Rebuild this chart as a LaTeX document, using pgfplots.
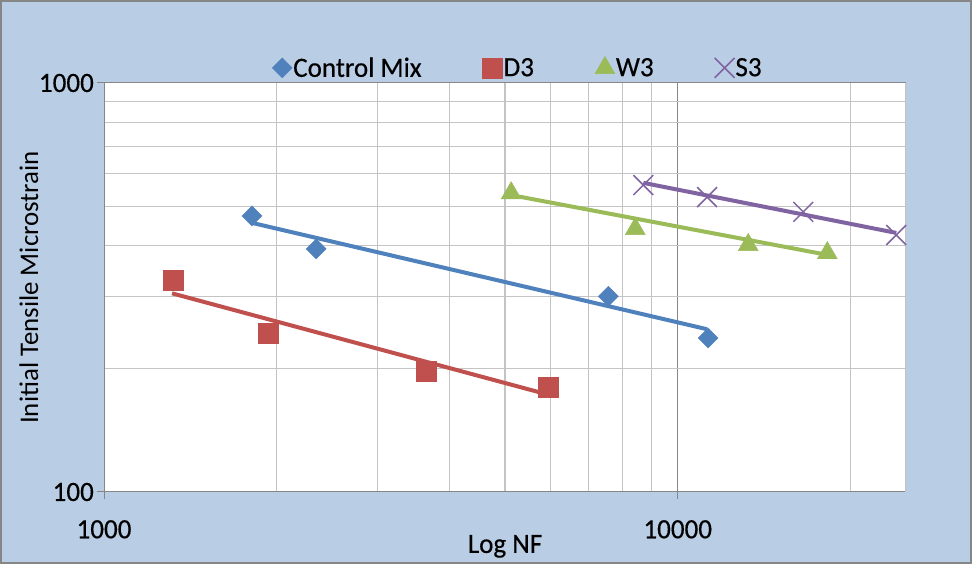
\documentclass[border=0pt]{standalone}
\usepackage{pgfplots}
\pgfplotsset{compat=1.18}
\usepackage{fontspec}
\setmainfont{Carlito}
\newfontfamily\cond{Carlito}[FakeStretch=0.97, FakeBold=0.4]

\definecolor{bgblue}{HTML}{B9CDE5}
\definecolor{framegray}{HTML}{868686}
\definecolor{gridgray}{HTML}{C4C4C4}
\definecolor{cblue}{HTML}{4F81BD}
\definecolor{cred}{HTML}{C0504D}
\definecolor{cgreen}{HTML}{9BBB59}
\definecolor{cpurple}{HTML}{8064A2}

\begin{document}
\begin{tikzpicture}
\useasboundingbox (0bp,0bp) rectangle (972bp,564bp);
\fill[bgblue] (0bp,0bp) rectangle (972bp,564bp);
\draw[framegray,line width=2bp] (1bp,1bp) rectangle (971bp,563bp);
\begin{axis}[
    at={(104bp,72bp)}, anchor=south west,
    scale only axis, width=802bp, height=409bp,
    xmode=log, ymode=log,
    xmin=1000, xmax=25000, ymin=100, ymax=1000,
    axis background/.style={fill=white},
    axis line style={draw=none},
    xtick={1000,10000}, xticklabels={1000,10000},
    ytick={100,1000}, yticklabels={100,1000},
    minor xtick={2000,3000,4000,5000,6000,7000,8000,9000,20000},
    minor ytick={200,300,400,500,600,700,800,900},
    minor tick length=0pt,
    xtick pos=bottom, ytick pos=left,
    tick align=outside, major tick length=7bp,
    major tick style={framegray, line width=1bp},
    grid=both,
    major grid style={framegray, line width=1bp},
    minor grid style={gridgray, line width=1.1bp},
    ticklabel style={font=\cond\fontsize{28}{30}\selectfont, inner sep=3bp},
    xticklabel style={yshift=-18bp},
    xlabel={Log NF},
    xlabel style={font=\cond\fontsize{28}{30}\selectfont, at={(axis description cs:0.5,-0.149)}, anchor=base},
    ylabel={Initial Tensile Microstrain},
    ylabel style={font=\fontsize{27}{30}\selectfont, at={(axis description cs:-0.0823,0.5)}, anchor=base},
    legend columns=4,
    legend style={at={(0.2095,1.037)}, anchor=west, draw=none, fill=none,
        inner sep=0pt, font=\cond\fontsize{28}{30}\selectfont,
        nodes={inner sep=1bp},
        /tikz/every even column/.append style={column sep=60bp}},
    legend image code/.code={\draw[mark repeat=2, mark phase=2, #1] plot coordinates {(-10bp,0bp) (0bp,0bp) (10bp,0bp)};},
]
\draw[framegray, line width=1bp] (rel axis cs:0,0) -- (rel axis cs:0,1);
\draw[framegray, line width=1bp] (rel axis cs:0,0) -- (rel axis cs:1,0);
\draw[gridgray, line width=1.1bp] (rel axis cs:1,0) -- (rel axis cs:1,1);

% trend lines
\addplot[cblue, line width=4bp, forget plot] coordinates {(1811,455) (11250,250)};
\addplot[cred, line width=4bp, forget plot] coordinates {(1314,306) (5946,173)};
\addplot[cgreen, line width=4bp, forget plot] coordinates {(5125,532) (18230,380)};
\addplot[cpurple, line width=4bp, forget plot] coordinates {(8710,570) (24040,430)};

% data
\addplot[only marks, mark=square*, mark size=7.07bp, mark options={rotate=45, draw=cblue, fill=cblue}]
    coordinates {(1811,473) (2343,393) (7568,301) (11300,238)};
\addlegendentry{Control Mix}
\addplot[only marks, mark=square*, mark size=10bp, mark options={draw=cred, fill=cred}]
    coordinates {(1319,330) (1932,245) (3641,197) (5946,180)};
\addlegendentry{D3}
\addplot[only marks, mark=triangle*, mark size=11.5bp, mark options={draw=cgreen, fill=cgreen}]
    coordinates {(5125,538) (8433,440) (13270,402) (18230,384)};
\addlegendentry{W3}
\addplot[only marks, mark=x, mark size=14bp, mark options={draw=cpurple, line width=1.5bp}]
    coordinates {(8710,563) (11250,526) (16550,484) (24040,425)};
\addlegendentry{S3}
\end{axis}
\end{tikzpicture}
\end{document}
